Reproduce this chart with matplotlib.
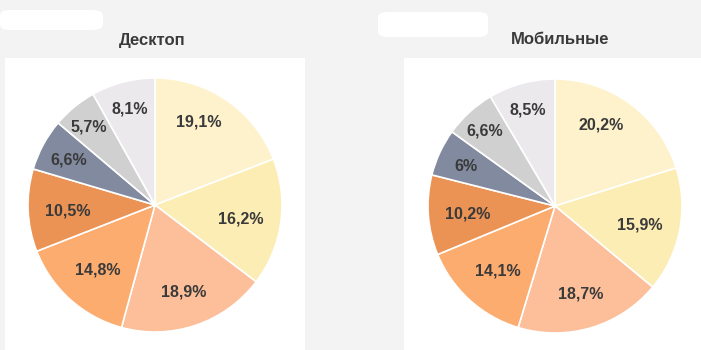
import numpy as np
import matplotlib.pyplot as plt
from matplotlib.patches import Rectangle, FancyBboxPatch

plt.rcParams['font.family'] = ['Liberation Sans', 'DejaVu Sans']

# shares of traffic by segment, %
desktop = [19.1, 16.2, 18.9, 14.8, 10.5, 6.6, 5.7, 8.1]
mobile = [20.2, 15.9, 18.7, 14.1, 10.2, 6.0, 6.6, 8.5]
titles = ["Десктоп", "Мобильные"]

colors = ["#FEF2CC", "#FCEDB5", "#FDBF9A", "#FDAC6F",
          "#EB9355", "#818A9F", "#D0D0D0", "#EBE9EC"]

# label placement: radius (fraction) and angle shift (deg) per wedge
lab_r = [0.75, 0.68, 0.71, 0.67, 0.69, 0.77, 0.82, 0.80]
lab_da = [7, 0, 0, 0, 0, 0, 0, 0]

W, H = 701, 350
fig = plt.figure(figsize=(W / 100, H / 100), dpi=100)
fig.patch.set_facecolor("#f3f3f3")

# white panels behind the charts
fig.patches.append(Rectangle((5 / W, 0), 300 / W, (H - 58) / H, zorder=-5,
                             transform=fig.transFigure, fc="white", ec="none"))
fig.patches.append(Rectangle((404 / W, 0), (W - 404) / W, (H - 58) / H, zorder=-5,
                             transform=fig.transFigure, fc="white", ec="none"))
for x0, x1, y0, y1 in [(0, 103, 10, 30), (378, 488, 12, 37)]:
    fig.patches.append(FancyBboxPatch((x0 / W, 1 - y1 / H), (x1 - x0) / W, (y1 - y0) / H,
                                      boxstyle="round,pad=0,rounding_size=0.015", zorder=-5,
                                      transform=fig.transFigure, fc="white", ec="none"))


def fmt(v):
    s = ("%.1f" % v).replace(".", ",")
    if s.endswith(",0"):
        s = s[:-2]
    return s + "%"


def draw(vals, title, cx, cy, tx, ty):
    r = 127
    ax = fig.add_axes([(cx - r) / W, (H - cy - r) / H, 2 * r / W, 2 * r / H])
    ax.patch.set_visible(False)
    wedges, _ = ax.pie(vals, colors=colors, startangle=90, counterclock=False,
                       radius=1, wedgeprops=dict(edgecolor="white", linewidth=1.2))
    for w, v, d, da in zip(wedges, vals, lab_r, lab_da):
        ang = np.deg2rad((w.theta1 + w.theta2) / 2 + da)
        ax.text(d * np.cos(ang), d * np.sin(ang) - 0.015, fmt(v), ha="center", va="center",
                fontsize=11.5, fontweight="bold", color="#3a3a3a")
    ax.set_xlim(-1, 1)
    ax.set_ylim(-1, 1)
    ax.set_aspect("equal")
    ax.axis("off")
    fig.text(tx / W, 1 - ty / H, title, ha="center", va="center",
             fontsize=12, fontweight="bold", color="#3a3a3a")


draw(desktop, titles[0], 155, 205, 152, 40)
draw(mobile, titles[1], 555, 206, 560, 39)

fig.savefig("out.png", dpi=100, facecolor=fig.get_facecolor())
